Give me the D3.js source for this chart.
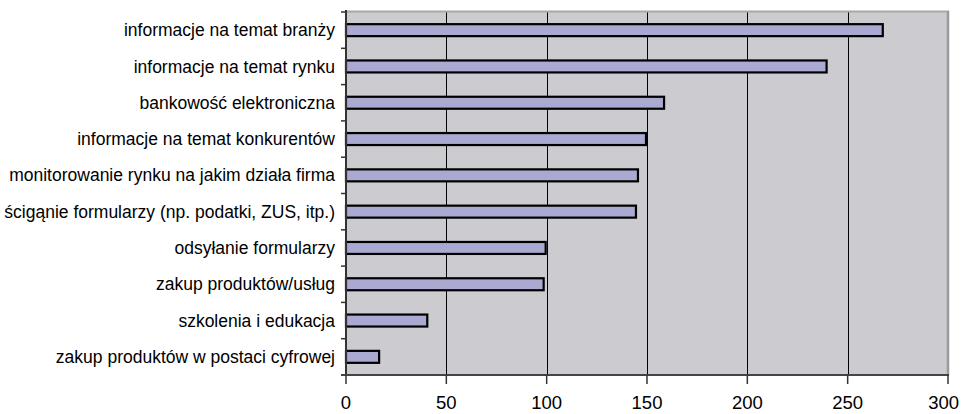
<!DOCTYPE html>
<html>
<head>
<meta charset="utf-8">
<script src="https://cdn.jsdelivr.net/npm/d3@7"></script>
<style>
  html, body { margin: 0; padding: 0; background: #ffffff; }
  svg { display: block; }
</style>
</head>
<body>
<svg id="chart" width="961" height="414"></svg>
<script>
const categories = [
  "informacje na temat branży",
  "informacje na temat rynku",
  "bankowość elektroniczna",
  "informacje na temat konkurentów",
  "monitorowanie rynku na jakim działa firma",
  "ścigąnie formularzy (np. podatki, ZUS, itp.)",
  "odsyłanie formularzy",
  "zakup produktów/usług",
  "szkolenia i edukacja",
  "zakup produktów w postaci cyfrowej"
];
const values = [268, 240, 159, 150, 146, 145, 100, 99, 41, 17];
const xTicks = [0, 50, 100, 150, 200, 250, 300];

(function () {
const svg = d3.select("#chart");
const pLeft = 346, pRight = 948, pTop = 12, pBottom = 375;

const x = d3.scaleLinear().domain([0, 300]).range([pLeft, pRight]);
const y = d3.scaleBand().domain(categories).range([pTop, pBottom])
  .paddingInner(0.615).paddingOuter(0.3075);
const yTickScale = d3.scaleBand().domain(categories).range([pTop, pBottom]);

// plot background
svg.append("rect")
  .attr("x", pLeft).attr("y", pTop)
  .attr("width", pRight - pLeft).attr("height", pBottom - pTop)
  .attr("fill", "#cbcbd0");

// gridlines
svg.append("g").selectAll("line")
  .data(xTicks.filter(t => t > 0 && t < 300))
  .join("line")
  .attr("x1", d => Math.round(x(d)) + 0.5).attr("x2", d => Math.round(x(d)) + 0.5)
  .attr("y1", pTop).attr("y2", pBottom)
  .attr("stroke", "#000").attr("stroke-width", 1);

// top and right borders
svg.append("line").attr("x1", pLeft).attr("x2", pRight + 1)
  .attr("y1", pTop - 0.5).attr("y2", pTop - 0.5)
  .attr("stroke", "#a8a8a8").attr("stroke-width", 2);
svg.append("line").attr("x1", pRight).attr("x2", pRight)
  .attr("y1", pTop - 1).attr("y2", pBottom)
  .attr("stroke", "#9a9a9a").attr("stroke-width", 2.5);

// bars
svg.append("g").selectAll("rect")
  .data(values)
  .join("rect")
  .attr("x", x(0))
  .attr("y", (d, i) => y(categories[i]) + 1)
  .attr("width", d => x(d) - x(0) - 1)
  .attr("height", y.bandwidth() - 2)
  .attr("fill", "#a9a9d1")
  .attr("stroke", "#000")
  .attr("stroke-width", 2.2);

// left axis line
svg.append("line").attr("x1", pLeft).attr("x2", pLeft)
  .attr("y1", pTop - 2).attr("y2", pBottom + 1)
  .attr("stroke", "#333").attr("stroke-width", 2);
// left category tick marks
const yBounds = categories.map(c => yTickScale(c)).concat([pBottom]);
svg.append("g").selectAll("line")
  .data(yBounds)
  .join("line")
  .attr("x1", pLeft - 5).attr("x2", pLeft)
  .attr("y1", d => d).attr("y2", d => d)
  .attr("stroke", "#333").attr("stroke-width", 1.5);

// bottom axis line
svg.append("line").attr("x1", pLeft - 5).attr("x2", pRight + 1)
  .attr("y1", pBottom).attr("y2", pBottom)
  .attr("stroke", "#444").attr("stroke-width", 2);
// bottom tick marks
svg.append("g").selectAll("line")
  .data(xTicks)
  .join("line")
  .attr("x1", d => x(d)).attr("x2", d => x(d))
  .attr("y1", pBottom).attr("y2", pBottom + 9)
  .attr("stroke", "#333").attr("stroke-width", 1.5);

// x tick labels
svg.append("g").selectAll("text")
  .data(xTicks)
  .join("text")
  .attr("x", d => d === 300 ? 959 : x(d))
  .attr("y", 409)
  .attr("text-anchor", d => d === 300 ? "end" : "middle")
  .attr("font-family", "Liberation Sans, Arial, sans-serif")
  .attr("font-size", 18.5)
  .attr("fill", "#000")
  .text(d => d);

// category labels
svg.append("g").selectAll("text")
  .data(categories)
  .join("text")
  .attr("x", 335)
  .attr("y", d => yTickScale(d) + yTickScale.bandwidth() / 2)
  .attr("dy", "0.35em")
  .attr("text-anchor", "end")
  .attr("font-family", "Liberation Sans, Arial, sans-serif")
  .attr("font-size", 17.5)
  .attr("fill", "#000")
  .text(d => d);
})();
</script>
</body>
</html>
